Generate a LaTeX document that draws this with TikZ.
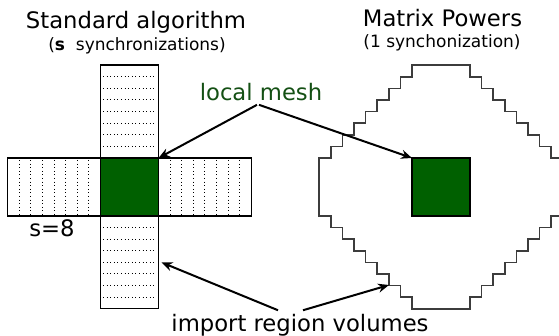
\documentclass[tikz,border=0pt]{standalone}
\usepackage{fontspec}
\setmainfont{DejaVu Sans}
\usetikzlibrary{arrows.meta}
\definecolor{meshgreen}{RGB}{0,96,0}
\definecolor{labelgreen}{RGB}{20,80,20}
\definecolor{stairgray}{RGB}{60,60,60}
\tikzset{
  bigtext/.style={font=\fontsize{22.7}{26}\selectfont, anchor=base, inner sep=3.3pt},
  smalltext/.style={font=\fontsize{17}{20}\selectfont, anchor=base},
  barbox/.style={draw=black, line width=1.4pt, fill=white},
  meshsq/.style={draw=black, line width=1.4pt, fill=meshgreen, minimum width=58pt, minimum height=58pt, inner sep=0pt, outer sep=0pt},
  dotline/.style={line width=1pt, dash pattern=on 1pt off 2.6pt},
  pointer/.style={line width=2pt, -{Stealth[length=11pt,width=9pt]}},
  stair/.style={draw=stairgray, line width=1.5pt}
}
\begin{document}
\begin{tikzpicture}[x=1pt,y=-1pt]
\useasboundingbox (0,0) rectangle (559,336);
\clip (0,0) rectangle (559,336);
% ---- Standard algorithm ----
\node[bigtext] (t1) at (136,28.5) {Standard algorithm};
\node[smalltext] (s1) at (137,50.5) {(\textbf{s}\ \ synchronizations)};
\draw[barbox] (100.5,65.2) rectangle (158.5,158);
\draw[barbox] (7.7,158) rectangle (100.5,216);
\draw[barbox] (158.5,158) rectangle (251.3,216);
\node[barbox, minimum width=58pt, minimum height=92.8pt, inner sep=0pt, outer sep=0pt] (bot) at (129.5,262.4) {};
\foreach \k in {1,...,7} {
  \draw[dotline] (103,65.2+11.6*\k) -- (156.5,65.2+11.6*\k);
  \draw[dotline] (103,216+11.6*\k) -- (156.5,216+11.6*\k);
  \draw[dotline] (7.7+11.6*\k,160) -- (7.7+11.6*\k,214.5);
  \draw[dotline] (158.5+11.6*\k,160) -- (158.5+11.6*\k,214.5);
}
\node[meshsq] (gL) at (129.5,187) {};
\node[bigtext] (s8) at (52,237) {s=8};
% ---- Matrix Powers ----
\node[bigtext] (t2) at (442.5,27) {Matrix Powers};
\node[smalltext] (s2) at (442,47.5) {(1 synchonization)};
\draw[stair] (412,65.2)
  \foreach \i in {1,...,8} { -- ++(0,11.6) -- ++(-11.6,0) }
  -- ++(0,58)
  \foreach \i in {1,...,8} { -- ++(11.6,0) -- ++(0,11.6) }
  -- ++(58,0)
  \foreach \i in {1,...,8} { -- ++(0,-11.6) -- ++(11.6,0) }
  -- ++(0,-58)
  \foreach \i in {1,...,8} { -- ++(-11.6,0) -- ++(0,-11.6) }
  -- cycle;
\coordinate (stairpt) at (389,285);
\node[meshsq] (gR) at (441,187) {};
% ---- labels and pointers ----
\node[bigtext, text=labelgreen] (lm) at (261,101) {local mesh};
\draw[pointer] ([xshift=-4pt]lm.south) -- (gL.north east);
\draw[pointer] ([xshift=-2pt]lm.south) -- (gR.north west);
\node[bigtext] (imp) at (300,331) {import region volumes};
\draw[pointer] ([xshift=-22pt]imp.north) -- ([xshift=3pt]bot.east);
\draw[pointer] ([xshift=3pt]imp.north) -- (stairpt);
\end{tikzpicture}
\end{document}
